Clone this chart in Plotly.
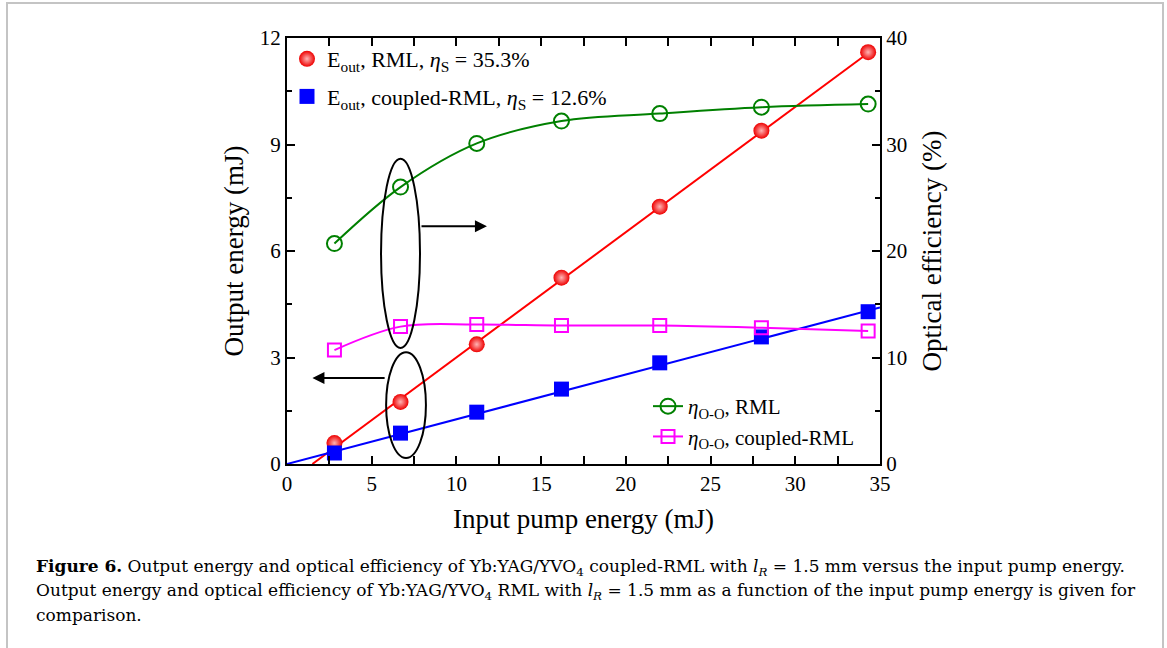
import plotly.graph_objects as go

# ---------------- data ----------------
pump = [2.8, 6.7, 11.2, 16.2, 22.0, 28.0, 34.3]
e_rml = [0.59, 1.75, 3.37, 5.25, 7.25, 9.39, 11.6]
e_coupled = [0.31, 0.87, 1.46, 2.11, 2.85, 3.58, 4.29]
eta_rml = [20.7, 26.0, 30.1, 32.2, 32.9, 33.5, 33.8]
eta_coupled = [10.7, 12.9, 13.1, 13.0, 13.0, 12.8, 12.5]

fit_rml_x = [1.5, 34.5]
fit_rml_y = [0.0, 11.65]
fit_coupled_x = [0.0, 35.0]
fit_coupled_y = [0.0, 4.41]

x_ticks = [0, 5, 10, 15, 20, 25, 30, 35]
y1_ticks = [0, 3, 6, 9, 12]
y2_ticks = [0, 10, 20, 30, 40]

FONT = "Liberation Serif"
CAP_FONT = "DejaVu Serif"

fig = go.Figure()

# fit lines
fig.add_trace(go.Scatter(x=fit_rml_x, y=fit_rml_y, mode="lines",
                         line=dict(color="#ff0000", width=2), showlegend=False,
                         hoverinfo="skip"))
fig.add_trace(go.Scatter(x=fit_coupled_x, y=fit_coupled_y, mode="lines",
                         line=dict(color="#0000ff", width=2), showlegend=False,
                         hoverinfo="skip"))

# output energy points
fig.add_trace(go.Scatter(
    x=pump, y=e_rml, mode="markers",
    name="E<sub>out</sub>, RML, <i>η</i><sub>S</sub> = 35.3%",
    marker=dict(symbol="circle", size=16, color="#ee0000",
                gradient=dict(type="radial", color="#ffb4b4"),
                line=dict(width=0)),
    legend="legend", legendgroup="a"))
fig.add_trace(go.Scatter(
    x=pump, y=e_coupled, mode="markers",
    name="E<sub>out</sub>, coupled-RML, <i>η</i><sub>S</sub> = 12.6%",
    marker=dict(symbol="square", size=15, color="#0000ff", line=dict(width=0)),
    legend="legend", legendgroup="b"))

# optical efficiency
fig.add_trace(go.Scatter(
    x=pump, y=eta_rml, mode="lines+markers", yaxis="y2",
    name="<i>η</i><sub>O-O</sub>, RML",
    line=dict(color="#008000", width=2, shape="spline", smoothing=1.0),
    marker=dict(symbol="circle-open", size=15, color="#008000", line=dict(width=2)),
    legend="legend2", legendgroup="c"))
fig.add_trace(go.Scatter(
    x=pump, y=eta_coupled, mode="lines+markers", yaxis="y2",
    name="<i>η</i><sub>O-O</sub>, coupled-RML",
    line=dict(color="#ff00ff", width=2, shape="spline", smoothing=1.0),
    marker=dict(symbol="square-open", size=13, color="#ff00ff", line=dict(width=2)),
    legend="legend2", legendgroup="d"))

W, H = 1167, 648
L, R, T, B = 287, 880, 38, 464
pw, ph = R - L, B - T


def px(p):
    return (p - L) / pw


def py(p):
    return (B - p) / ph


axis_common = dict(showline=True, linecolor="black", linewidth=2,
                   ticks="inside", ticklen=8, tickwidth=2, tickcolor="black",
                   showgrid=False, zeroline=False,
                   tickfont=dict(family=FONT, size=21, color="black"))

fig.update_layout(
    width=W, height=H,
    margin=dict(l=L, r=W - R, t=T, b=H - B),
    paper_bgcolor="white", plot_bgcolor="white",
    font=dict(family=FONT, color="black"),
    xaxis=dict(range=[0, 35], tickvals=x_ticks, mirror="allticks",
               minor=dict(ticks="inside", ticklen=5, tickwidth=2, dtick=2.5,
                          tick0=0, tickcolor="black"),
               title=dict(text="Input pump energy (mJ)",
                          font=dict(family=FONT, size=27), standoff=14),
               **axis_common),
    yaxis=dict(range=[0, 12], tickvals=y1_ticks,
               minor=dict(ticks="inside", ticklen=5, tickwidth=2, dtick=1.5,
                          tick0=0, tickcolor="black"),
               title=dict(text="Output energy (mJ)",
                          font=dict(family=FONT, size=27), standoff=8),
               **axis_common),
    yaxis2=dict(range=[0, 40], tickvals=y2_ticks, overlaying="y", side="right",
                minor=dict(ticks="inside", ticklen=5, tickwidth=2, dtick=5,
                           tick0=0, tickcolor="black"),
                title=dict(text="Optical efficiency (%)",
                           font=dict(family=FONT, size=27), standoff=16),
                **axis_common),
    legend=dict(x=0.0, y=1.0, xanchor="left", yanchor="top",
                bgcolor="rgba(0,0,0,0)", font=dict(family=FONT, size=22),
                tracegroupgap=6),
    legend2=dict(x=px(648), y=py(386), xanchor="left", yanchor="top",
                 bgcolor="rgba(0,0,0,0)", font=dict(family=FONT, size=21),
                 tracegroupgap=0),
    showlegend=True,
)

# ellipses and arrows
fig.add_shape(type="circle", xref="x", yref="y", x0=5.55, x1=7.85, y0=3.27, y1=8.6,
              line=dict(color="black", width=2))
fig.add_shape(type="circle", xref="x", yref="y", x0=5.85, x1=8.2, y0=0.17, y1=3.15,
              line=dict(color="black", width=2))
fig.add_annotation(x=11.8, y=6.7, ax=7.85, ay=6.7, xref="x", yref="y",
                   axref="x", ayref="y", showarrow=True, arrowhead=2,
                   arrowsize=1.2, arrowwidth=2, arrowcolor="black", text="")
fig.add_annotation(x=1.5, y=2.42, ax=5.85, ay=2.42, xref="x", yref="y",
                   axref="x", ayref="y", showarrow=True, arrowhead=2,
                   arrowsize=1.2, arrowwidth=2, arrowcolor="black", text="")

# outer frame
fig.add_shape(type="rect", xref="paper", yref="paper",
              x0=px(7), x1=px(1163), y0=py(660), y1=py(3),
              line=dict(color="#c4c4c4", width=2), layer="below")

# caption
captions = [
    "<b>Figure 6.</b> Output energy and optical efficiency of Yb:YAG/YVO<sub>4</sub> "
    "coupled-RML with <i>l<sub>R</sub></i> = 1.5 mm versus the input pump energy.",
    "Output energy and optical efficiency of Yb:YAG/YVO<sub>4</sub> RML with "
    "<i>l<sub>R</sub></i> = 1.5 mm as a function of the input pump energy is given for",
    "comparison.",
]
for text, yp in zip(captions, [567, 591, 615]):
    fig.add_annotation(text=text, xref="paper", yref="paper", x=px(34), y=py(yp),
                       xanchor="left", yanchor="middle", showarrow=False,
                       align="left", font=dict(family=CAP_FONT, size=17, color="black"))

fig.write_html("out.html", config={"displayModeBar": False},
               post_script="document.body.style.margin='0';")
